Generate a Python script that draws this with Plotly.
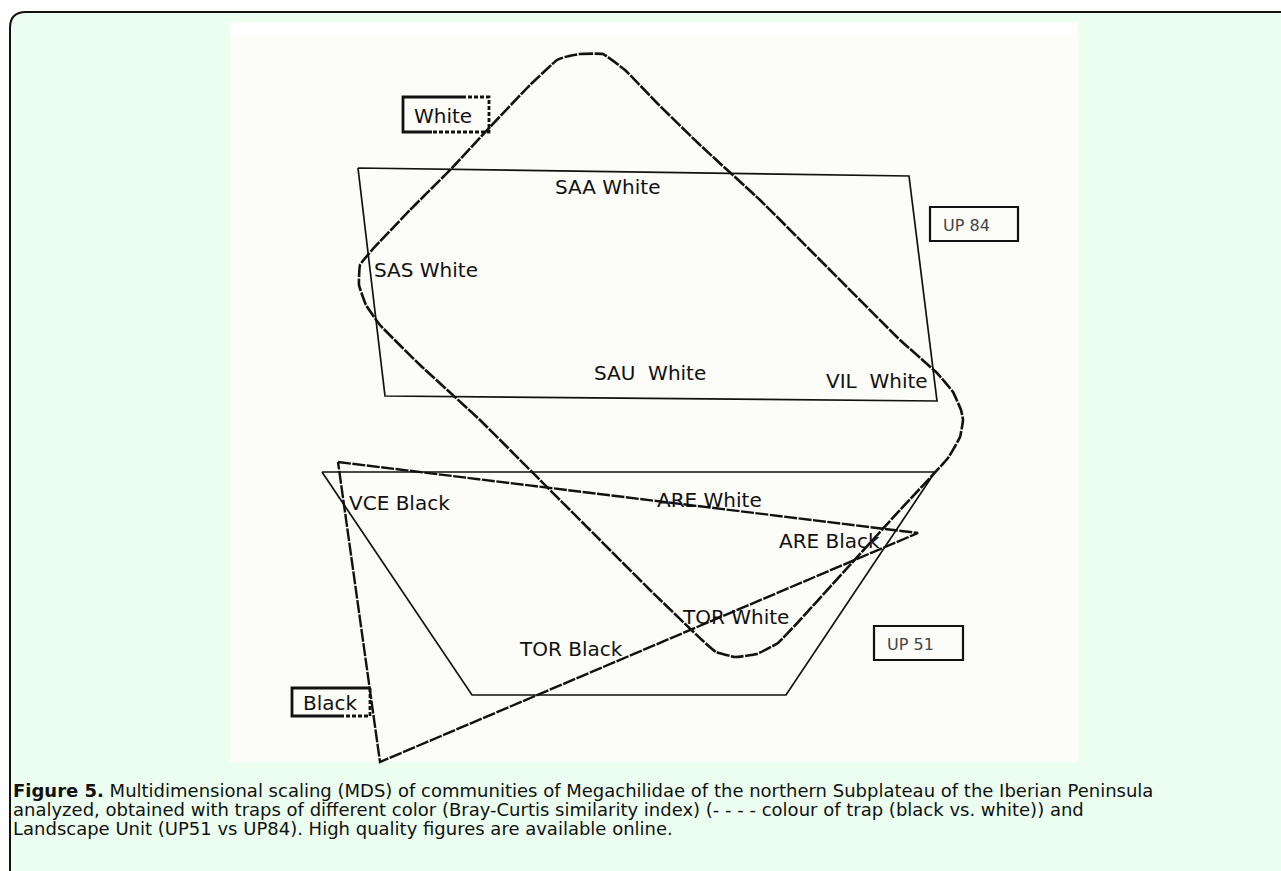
import plotly.graph_objects as go

# ---- data (positions in the figure's own MDS plane) ----
# Landscape unit UP84 (solid)
up84_x = [358, 909, 937, 385, 358]
up84_y = [168, 176, 401, 396, 168]
# Landscape unit UP51 (solid)
up51_x = [322, 935, 786, 472, 322]
up51_y = [472, 472, 695, 695, 472]
# Trap colour: White (dashed rounded outline)
white_x = [565, 580, 603, 625, 657, 700, 760, 830, 900, 937, 953, 961, 963, 960, 948,
           900, 850, 800, 778, 757, 735, 716, 702, 650, 600, 540, 480, 420, 380, 366,
           359, 360, 372, 410, 452, 490, 530, 557, 565]
white_y = [57, 54, 54, 70, 103, 145, 200, 270, 340, 373, 392, 410, 420, 437, 458,
           510, 565, 620, 643, 654, 657, 652, 640, 590, 540, 480, 420, 365, 325, 305,
           285, 265, 250, 210, 168, 127, 85, 60, 57]
# Trap colour: Black (dashed triangle)
black_x = [338, 918, 380, 338]
black_y = [462, 533, 762, 462]

# site labels
label_text = ["SAA White", "SAS White", "SAU  White", "VIL  White", "VCE Black",
              "ARE White", "ARE Black", "TOR White", "TOR Black"]
label_x = [553, 372, 592, 824, 347, 655, 777, 680, 517]
label_y = [187, 270, 373, 381, 503, 500, 541, 617, 649]

# legend boxes
box_text = ["White", "UP 84", "UP 51", "Black"]
box_x0 = [403, 930, 874, 292]
box_x1 = [489, 1018, 963, 370]
box_y0 = [97, 207, 626, 688]
box_y1 = [132, 241, 660, 716]

caption_lines = [
    "<b>Figure 5.</b> Multidimensional scaling (MDS) of communities of Megachilidae of the northern Subplateau of the Iberian Peninsula",
    "analyzed, obtained with traps of different color (Bray-Curtis similarity index) (- - - - colour of trap (black vs. white)) and",
    "Landscape Unit (UP51 vs UP84). High quality figures are available online.",
]
caption_y = [790, 809, 828]

fig = go.Figure()

line_dash = "13px,1.5px"
fig.add_trace(go.Scatter(x=up84_x, y=up84_y, mode="lines",
                         line=dict(color="#111", width=1.7), hoverinfo="skip"))
fig.add_trace(go.Scatter(x=up51_x, y=up51_y, mode="lines",
                         line=dict(color="#111", width=1.7), hoverinfo="skip"))
fig.add_trace(go.Scatter(x=white_x, y=white_y, mode="lines",
                         line=dict(color="#111", width=2.6, dash=line_dash, shape="spline", smoothing=0.3),
                         hoverinfo="skip"))
fig.add_trace(go.Scatter(x=black_x, y=black_y, mode="lines",
                         line=dict(color="#111", width=2.4, dash=line_dash), hoverinfo="skip"))

shapes = []
# green panel with rounded top-left corner
shapes.append(dict(type="path", xref="x", yref="y",
                   path="M 10,880 L 10,28 Q 10,12 26,12 L 1290,12 L 1290,880 Z",
                   fillcolor="#EBFEEF", line=dict(color="#111", width=2), layer="below"))
# white image area
shapes.append(dict(type="rect", xref="x", yref="y", x0=230, x1=1078, y0=22, y1=762,
                   fillcolor="#FCFCF8", line=dict(width=0), layer="below"))
shapes.append(dict(type="rect", xref="x", yref="y", x0=230, x1=1078, y0=22, y1=36,
                   fillcolor="#FFFFFF", line=dict(width=0), layer="below"))

# UP boxes (solid)
for i in (1, 2):
    shapes.append(dict(type="rect", xref="x", yref="y", x0=box_x0[i], x1=box_x1[i],
                       y0=box_y0[i], y1=box_y1[i], line=dict(color="#111", width=2.2),
                       fillcolor="rgba(0,0,0,0)"))
# White box: partly solid, partly dotted
i = 0
shapes.append(dict(type="path", xref="x", yref="y",
                   path=f"M 432,{box_y1[i]} L {box_x0[i]},{box_y1[i]} L {box_x0[i]},{box_y0[i]} L 462,{box_y0[i]}",
                   line=dict(color="#111", width=2.8)))
shapes.append(dict(type="path", xref="x", yref="y",
                   path=f"M 462,{box_y0[i]} L {box_x1[i]},{box_y0[i]} L {box_x1[i]},{box_y1[i]} L 432,{box_y1[i]}",
                   line=dict(color="#111", width=2.8, dash="4px,2px")))
# Black box: partly solid, partly dashed
i = 3
shapes.append(dict(type="path", xref="x", yref="y",
                   path=f"M {box_x1[i]},{box_y0[i]} L {box_x0[i]},{box_y0[i]} L {box_x0[i]},{box_y1[i]} L 340,{box_y1[i]}",
                   line=dict(color="#111", width=2.8)))
shapes.append(dict(type="path", xref="x", yref="y",
                   path=f"M 340,{box_y1[i]} L {box_x1[i]},{box_y1[i]} L {box_x1[i]},{box_y0[i]}",
                   line=dict(color="#111", width=2.8, dash="4px,2px")))

annotations = []
for t, x, y in zip(label_text, label_x, label_y):
    annotations.append(dict(x=x, y=y, xref="x", yref="y", text=t, showarrow=False,
                            xanchor="left", yanchor="middle",
                            font=dict(family="DejaVu Sans", size=20, color="#111")))
for i, t in enumerate(box_text):
    if i in (1, 2):
        cx, anchor = box_x0[i] + 11, "left"
        fnt = dict(family="DejaVu Sans", size=16, color="#444")
    else:
        cx, anchor = box_x0[i] + 9, "left"
        fnt = dict(family="DejaVu Sans", size=20, color="#111")
    annotations.append(dict(x=cx, y=(box_y0[i] + box_y1[i]) / 2 + 1, xref="x", yref="y",
                            text=t, showarrow=False, xanchor=anchor, yanchor="middle",
                            font=fnt))
for t, y in zip(caption_lines, caption_y):
    annotations.append(dict(x=12, y=y, xref="x", yref="y", text=t, showarrow=False,
                            xanchor="left", yanchor="middle", borderpad=0,
                            font=dict(family="DejaVu Sans", size=18, color="#111")))

fig.update_layout(
    width=1281, height=871,
    margin=dict(l=0, r=0, t=0, b=0),
    paper_bgcolor="white", plot_bgcolor="rgba(0,0,0,0)",
    showlegend=False,
    xaxis=dict(range=[0, 1281], visible=False, fixedrange=True, domain=[0, 1]),
    yaxis=dict(range=[871, 0], visible=False, fixedrange=True, domain=[0, 1]),
    shapes=shapes, annotations=annotations,
)

fig.write_html("out.html", config={"displayModeBar": False},
               post_script="document.body.style.margin='0';document.body.style.overflow='hidden';")
